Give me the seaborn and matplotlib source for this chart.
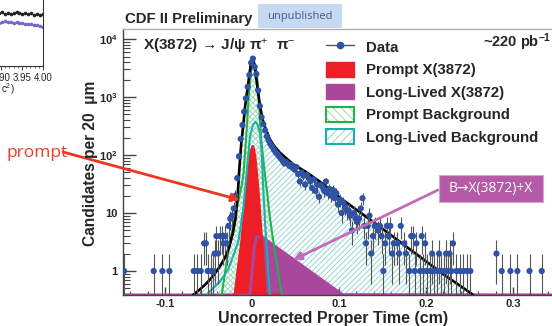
import numpy as np
import pandas as pd
import seaborn as sns
import matplotlib
matplotlib.use('Agg')
import matplotlib.pyplot as plt
from matplotlib.lines import Line2D
from matplotlib.patches import Patch, Rectangle
from matplotlib.legend_handler import HandlerTuple
from matplotlib.ticker import FixedLocator, MultipleLocator, LogLocator, NullFormatter

# proper time data, counts per 20 um bin (bins with zero entries not drawn)
time_cm = [-0.147, -0.113, -0.103, -0.095, -0.067, -0.063, -0.059, -0.055, -0.053, -0.051,
           -0.047, -0.045, -0.043, -0.041, -0.039, -0.037, -0.035, -0.033, -0.031, -0.029,
           -0.027, -0.025, -0.023, -0.021, -0.019, -0.017, -0.015, -0.013, -0.011, -0.009,
           -0.007, -0.005, -0.003, -0.001, 0.001, 0.003, 0.005, 0.007, 0.009, 0.011,
           0.013, 0.015, 0.017, 0.019, 0.021, 0.023, 0.025, 0.027, 0.029, 0.031,
           0.033, 0.035, 0.037, 0.039, 0.041, 0.043, 0.045, 0.047, 0.049, 0.051,
           0.053, 0.055, 0.057, 0.059, 0.061, 0.063, 0.065, 0.067, 0.069, 0.071,
           0.073, 0.075, 0.077, 0.079, 0.081, 0.083, 0.085, 0.087, 0.089, 0.091,
           0.093, 0.095, 0.097, 0.099, 0.101, 0.103, 0.105, 0.107, 0.109, 0.111,
           0.113, 0.115, 0.117, 0.119, 0.121, 0.123, 0.125, 0.127, 0.129, 0.131,
           0.133, 0.135, 0.137, 0.139, 0.141, 0.145, 0.147, 0.149, 0.151, 0.153,
           0.155, 0.157, 0.159, 0.161, 0.163, 0.167, 0.169, 0.171, 0.175, 0.177,
           0.181, 0.183, 0.185, 0.187, 0.189, 0.193, 0.195, 0.197, 0.199, 0.201,
           0.205, 0.207, 0.209, 0.213, 0.215, 0.217, 0.221, 0.223, 0.225, 0.227,
           0.229, 0.231, 0.235, 0.239, 0.243, 0.247, 0.251, 0.281, 0.287, 0.297,
           0.305, 0.319, 0.333]
counts = [1, 1, 1, 1, 1, 1, 1, 3, 3, 1,
          1, 1, 2, 4, 2, 4, 4, 3, 4, 3,
          6, 8, 9, 12, 20, 40, 95, 190, 330, 560,
          950, 1500, 2400, 3900, 4600, 3300, 2500, 1300, 700, 450,
          340, 265, 210, 180, 155, 140, 125, 112, 104, 95,
          88, 80, 72, 76, 70, 65, 68, 60, 56, 62,
          47, 35, 50, 44, 31, 45, 40, 35, 27, 38,
          24, 31, 19, 30, 28, 24, 35, 22, 26, 20,
          25, 18, 22, 14, 17, 10, 15, 13, 11, 11,
          9, 5, 10, 8, 7, 8, 12, 18, 6, 3,
          6, 9, 2, 4, 6, 5, 6, 4, 1, 3,
          6, 4, 6, 2, 3, 3, 2, 6, 3, 2,
          1, 4, 4, 1, 3, 1, 4, 1, 3, 1,
          1, 2, 1, 1, 2, 1, 1, 2, 1, 2,
          1, 3, 1, 1, 1, 1, 1, 2, 1, 1,
          1, 1, 1]

# fit components (cm, candidates)
total_t = [-0.070, -0.0675, -0.060, -0.052, -0.044, -0.037, -0.031, -0.0265, -0.022, -0.019,
           -0.0165, -0.0145, -0.0125, -0.010, -0.008, -0.0043, -0.0015, 0.0008, 0.003, 0.0046,
           0.007, 0.0092, 0.012, 0.015, 0.0207, 0.026, 0.032, 0.040, 0.047, 0.063,
           0.080, 0.104, 0.1425, 0.181, 0.219, 0.252, 0.256]
total_v = [0.3, 0.39, 0.48, 0.62, 0.85, 1.2, 1.7, 2.5, 4.5, 8,
           20, 60, 150, 330, 680, 1730, 3600, 4650, 3500, 2240,
           1200, 700, 420, 300, 185, 140, 110, 86, 70, 50,
           33, 17, 6.5, 2.4, 0.9, 0.41, 0.36]

prompt_bkg_t = [-0.036, -0.0348, -0.030, -0.0253, -0.0205, -0.0157, -0.0125, -0.010, -0.008, -0.006,
                -0.004, -0.002, 0.000, 0.002, 0.004, 0.0058, 0.0075, 0.0092, 0.0105, 0.0118,
                0.0149, 0.0175, 0.0205, 0.0245, 0.029, 0.0342, 0.0355]
prompt_bkg_v = [0.3, 0.39, 1.2, 3.2, 7.5, 16, 27, 45, 110, 300,
                900, 2200, 3500, 4000, 3400, 2300, 1100, 380, 190, 122,
                45, 22, 8.5, 3.2, 1.2, 0.39, 0.3]

long_bkg_t = [-0.055, -0.050, -0.037, -0.027, -0.0157, -0.010, -0.0075, -0.005, -0.0023, 0.001,
              0.0042, 0.0065, 0.0092, 0.0111, 0.013, 0.0155, 0.019, 0.021]
long_bkg_v = [0.3, 0.42, 0.65, 1.1, 3.2, 12, 30, 80, 207, 330,
              375, 330, 236, 107, 25, 5, 0.8, 0.3]

prompt_x_t = [-0.021, -0.0195, -0.0155, -0.0118, -0.008, -0.0042, -0.0015, 0.001, 0.003, 0.0054,
              0.008, 0.0111, 0.013, 0.015, 0.034]
prompt_x_v = [0.3, 0.39, 1.2, 3.2, 13, 45, 110, 140, 100, 45,
              15, 3.2, 1.2, 0.39, 0.2]

long_x_t = [-0.1483, -0.004, -0.0023, 0.0025, 0.005, 0.011, 0.104, 0.354]
long_x_v = [0.2, 0.2, 0.39, 2.5, 3.9, 3.9, 0.39, 0.2]

# corner of the neighbouring mass plot on the slide
frag_mass = [3.881, 3.888, 3.895, 3.902, 3.909, 3.916, 3.923, 3.930, 3.937, 3.944,
             3.951, 3.958, 3.965, 3.972, 3.979, 3.986, 3.993, 3.999]
frag_black = [53, 52, 53, 54, 52, 53, 52, 53, 54, 53, 52, 53, 52, 53, 51, 52, 51, 52]
frag_purple = [44, 44, 43, 44, 45, 44, 44, 43, 44, 43, 43, 42, 42, 42, 41, 41, 40, 39]

W, H = 552, 326
RED = '#ec1f27'
PURPLE = '#a9479d'
GREEN = '#22b24c'
TEAL = '#1bb0a8'
BLUE = '#2f52a4'

sns.set_style('ticks')
plt.rcParams['font.family'] = ['Liberation Sans', 'DejaVu Sans']
plt.rcParams['mathtext.fontset'] = 'custom'
plt.rcParams['mathtext.rm'] = 'Liberation Sans'
plt.rcParams['mathtext.bf'] = 'Liberation Sans:bold'
plt.rcParams['mathtext.it'] = 'Liberation Sans:italic'
plt.rcParams['hatch.linewidth'] = 0.7

fig = plt.figure(figsize=(W / 100, H / 100), dpi=100)


def box(x0, y0, x1, y1):
    # image pixel box -> figure rect
    return [x0 / W, 1 - y1 / H, (x1 - x0) / W, (y1 - y0) / H]


ax = fig.add_axes(box(123, 29, 560, 295))
ylo = 0.386
ax.set_yscale('log')
ax.set_xlim(-0.1483, 0.354)
ax.set_ylim(ylo, 14900)

# hatched backgrounds
ax.fill_between(total_t, total_v, 0.1, facecolor='none', edgecolor='#93d6d1',
                hatch='//////', linewidth=0, zorder=1)
ax.fill_between(prompt_bkg_t, prompt_bkg_v, 0.1, facecolor='none', edgecolor='#9edb9c',
                hatch='\\\\\\\\\\\\', linewidth=0, zorder=1.1)
# signal
ax.fill_between(long_x_t, long_x_v, 0.1, color=PURPLE, linewidth=0, zorder=2)
ax.fill_between(prompt_x_t, prompt_x_v, 0.1, color=RED, linewidth=0, zorder=2.1)
ax.plot(long_x_t, np.clip(long_x_v, ylo, None), color=PURPLE, lw=2.2, zorder=2.2)
ax.plot(prompt_x_t, np.clip(prompt_x_v, ylo, None), color=RED, lw=2.2, zorder=2.3)

ax.plot(prompt_bkg_t, prompt_bkg_v, color=GREEN, lw=1.5, zorder=3)
ax.plot(long_bkg_t, long_bkg_v, color=TEAL, lw=1.5, zorder=3.1)
ax.plot(total_t, total_v, color='black', lw=1.9, zorder=4)

df = pd.DataFrame({'t': time_cm, 'n': counts})
err = np.sqrt(df['n'])
lo = np.minimum(err, df['n'] * 0.999)
ax.errorbar(df['t'], df['n'], yerr=[lo, err], fmt='none', ecolor='#555555',
            elinewidth=0.8, zorder=5)
sns.scatterplot(data=df, x='t', y='n', ax=ax, color=BLUE, s=20, edgecolor='none',
                zorder=6, legend=False)
ax.set_xlabel('')
ax.set_ylabel('')

# axes styling
for s in ['left', 'bottom']:
    ax.spines[s].set_color('#444444')
    ax.spines[s].set_linewidth(1.0)
ax.spines['top'].set_color('#b0b0b0')
ax.spines['top'].set_linewidth(1.0)
ax.spines['right'].set_visible(False)

ax.yaxis.set_major_locator(FixedLocator([1, 10, 100, 1000, 10000]))
ax.set_yticklabels(['1', '10', r'$\mathbf{10^{2}}$', r'$\mathbf{10^{3}}$', r'$\mathbf{10^{4}}$'])
ax.yaxis.set_minor_locator(LogLocator(base=10, subs=np.arange(2, 10)))
ax.yaxis.set_minor_formatter(NullFormatter())
ax.xaxis.set_major_locator(FixedLocator([-0.1, 0, 0.1, 0.2, 0.3]))
ax.set_xticklabels(['-0.1', '0', '0.1', '0.2', '0.3'])
ax.xaxis.set_minor_locator(MultipleLocator(0.02))
ax.tick_params(axis='y', which='major', direction='in', length=9, width=1, color='#444444',
               pad=4, labelsize=8)
ax.tick_params(axis='y', which='minor', direction='in', length=5, width=0.8, color='#444444')
ax.tick_params(axis='x', which='major', direction='in', length=6, width=1, color='#444444',
               pad=3, labelsize=8)
ax.tick_params(axis='x', which='minor', direction='in', length=3, width=0.8, color='#444444')
ax.tick_params(right=False, top=False, which='both')
for lab in ax.get_xticklabels() + ax.get_yticklabels():
    lab.set_fontweight('bold')

# legend
h_data = Line2D([], [], color='#555555', lw=1, marker='o', ms=4.5, mfc=BLUE, mec=BLUE)
h_px = Patch(facecolor=RED, edgecolor=RED)
h_lx = Patch(facecolor=PURPLE, edgecolor=PURPLE)
h_pb = (Patch(facecolor='white', edgecolor='#9edb9c', hatch='\\\\\\\\', lw=0),
        Patch(facecolor='none', edgecolor=GREEN, lw=1.5))
h_lb = (Patch(facecolor='white', edgecolor='#93d6d1', hatch='////', lw=0),
        Patch(facecolor='none', edgecolor=TEAL, lw=1.5))
ax.legend([h_data, h_px, h_lx, h_pb, h_lb],
          ['Data', 'Prompt X(3872)', 'Long-Lived X(3872)', 'Prompt Background',
           'Long-Lived Background'],
          handler_map={tuple: HandlerTuple(ndivide=1, pad=0)},
          loc='upper left', bbox_to_anchor=(326 / W, 1 - 39 / H), bbox_transform=fig.transFigure,
          frameon=False, prop={'weight': 'bold', 'size': 10.8}, handlelength=1.85,
          handleheight=1.2, labelspacing=0.45, handletextpad=0.8, borderpad=0,
          borderaxespad=0)

# texts on the plot
fig.text(143 / W, 1 - 46 / H, 'X(3872) \u2192 J/\u03c8 \u03c0$^{+}$  \u03c0$^{-}$',
         fontsize=11, fontweight='bold', va='center', ha='left')
fig.text(551 / W, 1 - 42 / H, r'~220 pb$^{\mathbf{-1}}$', fontsize=10.5, fontweight='bold',
         va='center', ha='right')
fig.text(125 / W, 1 - 19 / H, 'CDF II Preliminary', fontsize=10.7, fontweight='bold',
         va='center', ha='left')
fig.patches.append(Rectangle((258 / W, 1 - 28 / H), 84 / W, 24 / H, transform=fig.transFigure,
                             facecolor='#c6d9f0', edgecolor='none', zorder=1))
fig.text(300 / W, 1 - 16 / H, 'unpublished', fontsize=8, color='#3d5f96',
         family=['Open Sans', 'DejaVu Sans'], va='center', ha='center')
fig.text(90 / W, 1 - 163 / H, 'Candidates per 20  \u03bcm', rotation=90, fontsize=11.2,
         fontweight='bold', va='center', ha='center')
fig.text(333 / W, 1 - 318 / H, 'Uncorrected Proper Time (cm)', fontsize=11.5,
         fontweight='bold', va='center', ha='center')

# slide annotations
fig.text(7 / W, 1 - 157 / H, 'prompt', fontsize=12.5, color='#ef3b2c',
         family=['Open Sans', 'DejaVu Sans'], va='baseline', ha='left')
ax.annotate('', xy=(240, H - 200), xycoords='figure pixels', xytext=(63, H - 152),
            textcoords='figure pixels', annotation_clip=False, zorder=10,
            arrowprops=dict(arrowstyle='-|>', color='#ee3524', lw=2, mutation_scale=12,
                            shrinkA=0, shrinkB=0))
fig.patches.append(Rectangle((438.7 / W, 1 - 202.3 / H), 104 / W, 27.6 / H,
                             transform=fig.transFigure, facecolor='#b45aa6',
                             edgecolor='#d9a6d0', lw=0.8, zorder=5))
fig.text(490.7 / W, 1 - 188.5 / H, 'B\u2192X(3872)+X', fontsize=10, color='white',
         family=['Open Sans', 'DejaVu Sans'], va='center', ha='center', zorder=6)
ax.annotate('', xy=(293, H - 260), xycoords='figure pixels', xytext=(438, H - 190),
            textcoords='figure pixels', annotation_clip=False, zorder=10,
            arrowprops=dict(arrowstyle='-|>', color='#c46bb8', lw=2, mutation_scale=12,
                            shrinkA=0, shrinkB=0))

# neighbouring mass plot corner
ax2 = fig.add_axes(box(-20, -20, 43, 66))
ax2.set_xlim(3.85, 4.00)
ax2.set_ylim(0, 86)
ax2.plot(frag_mass, frag_black, 'o', color='#222222', ms=1.6)
ax2.plot(frag_mass, frag_purple, 'o', color='#7a64cc', ms=1.6)
ax2.spines['top'].set_visible(False)
ax2.spines['left'].set_visible(False)
for s in ['right', 'bottom']:
    ax2.spines[s].set_color('#333333')
    ax2.spines[s].set_linewidth(0.8)
ax2.set_yticks([])
ax2.xaxis.set_major_locator(FixedLocator([3.90, 3.95, 4.00]))
ax2.set_xticklabels(['3.90', '3.95', '4.00'])
ax2.xaxis.set_minor_locator(MultipleLocator(0.01))
ax2.tick_params(axis='x', which='major', direction='out', length=3, width=0.6, pad=2,
                labelsize=7)
ax2.tick_params(axis='x', which='minor', direction='out', length=1.5, width=0.5)
fig.text(1 / W, 1 - 89 / H, 'c$^{2}$)', fontsize=7, va='center', ha='left')

fig.savefig('out.png', dpi=100)
